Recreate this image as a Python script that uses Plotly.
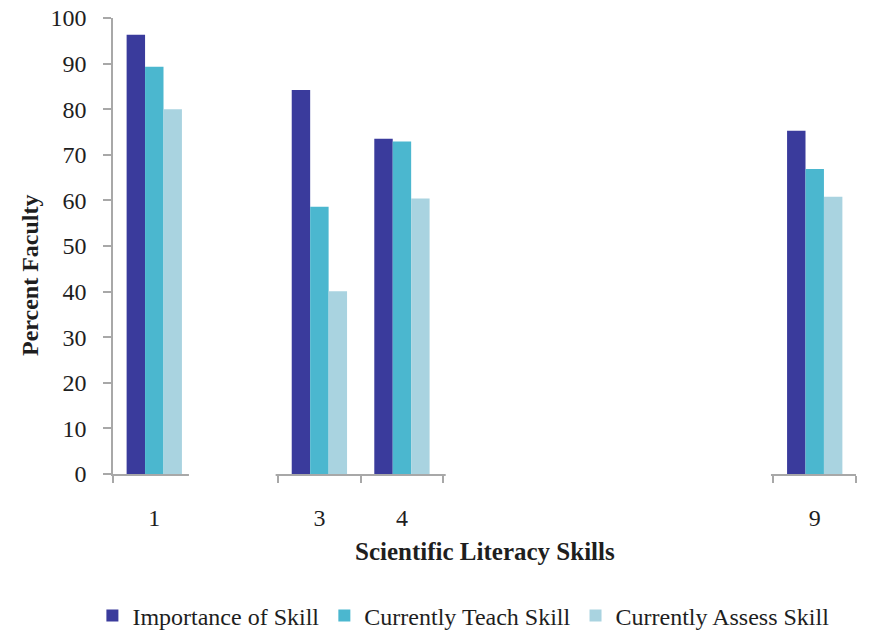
import plotly.graph_objects as go

# Scientific literacy skill numbers shown on the x axis
skills = [1, 3, 4, 9]
skill_labels = ["1", "3", "4", "9"]

# Percent of faculty for each skill
importance = [96.3, 84.2, 73.5, 75.3]
teach = [89.3, 58.6, 72.9, 66.9]
assess = [80.0, 40.1, 60.4, 60.8]

series = [
    ("Importance of Skill", importance, "#3a3b9c"),
    ("Currently Teach Skill", teach, "#4bb7cf"),
    ("Currently Assess Skill", assess, "#a9d3e0"),
]

# stretches of the x axis line left blank between the skill groups
axis_gaps = [(1.42, 2.47), (4.53, 8.47)]

FONT = "Liberation Serif"
TEXT = "#1e1e1e"
AXIS = "#a8a8a8"

fig = go.Figure()
for name, vals, color in series:
    fig.add_trace(go.Bar(x=skills, y=vals, name=name, marker=dict(color=color, line=dict(width=0))))

fig.update_layout(
    width=880,
    height=631,
    margin=dict(l=113, r=24, t=18, b=157, autoexpand=False),
    paper_bgcolor="white",
    plot_bgcolor="white",
    barmode="group",
    bargap=0.33,
    bargroupgap=0,
    font=dict(family=FONT, size=23, color=TEXT),
    showlegend=True,
    legend=dict(
        orientation="h",
        xref="container",
        yref="container",
        x=0.105,
        xanchor="left",
        y=0.024,
        yanchor="middle",
        font=dict(family=FONT, size=24, color=TEXT),
        itemwidth=30,
        traceorder="normal",
        bgcolor="rgba(0,0,0,0)",
    ),
)

fig.update_xaxes(
    range=[0.5, 9.5],
    tickvals=skills,
    ticktext=skill_labels,
    ticks="",
    ticklabelstandoff=21,
    showline=True,
    linecolor=AXIS,
    linewidth=1.5,
    showgrid=False,
    zeroline=False,
    tickfont=dict(family=FONT, size=24, color=TEXT),
    minor=dict(ticks="outside", tick0=0.5, dtick=1, ticklen=7, tickcolor=AXIS, tickwidth=1.5, showgrid=False),
)

fig.update_yaxes(
    range=[0, 100],
    dtick=10,
    ticks="outside",
    ticklen=8,
    tickwidth=1.5,
    tickcolor=AXIS,
    ticklabelstandoff=12,
    showline=True,
    linecolor=AXIS,
    linewidth=1.5,
    showgrid=False,
    zeroline=False,
    tickfont=dict(family=FONT, size=24, color=TEXT),
)

# blank out the axis line and boundary ticks over the skipped skills
for x0, x1 in axis_gaps:
    fig.add_shape(
        type="rect", xref="x", yref="paper", x0=x0, x1=x1, y0=-0.03, y1=0.006,
        fillcolor="white", line=dict(width=0), layer="above",
    )

# axis titles
fig.add_annotation(
    text="<b>Scientific Literacy Skills</b>", xref="paper", yref="paper",
    x=0.5, y=-0.169, xanchor="center", yanchor="middle", showarrow=False,
    font=dict(family=FONT, size=25, color=TEXT),
)
fig.add_annotation(
    text="<b>Percent Faculty</b>", xref="paper", yref="paper",
    x=-0.112, y=0.436, xanchor="center", yanchor="middle", showarrow=False,
    textangle=-90, font=dict(family=FONT, size=24, color=TEXT),
)

fig.write_html("out.html")
